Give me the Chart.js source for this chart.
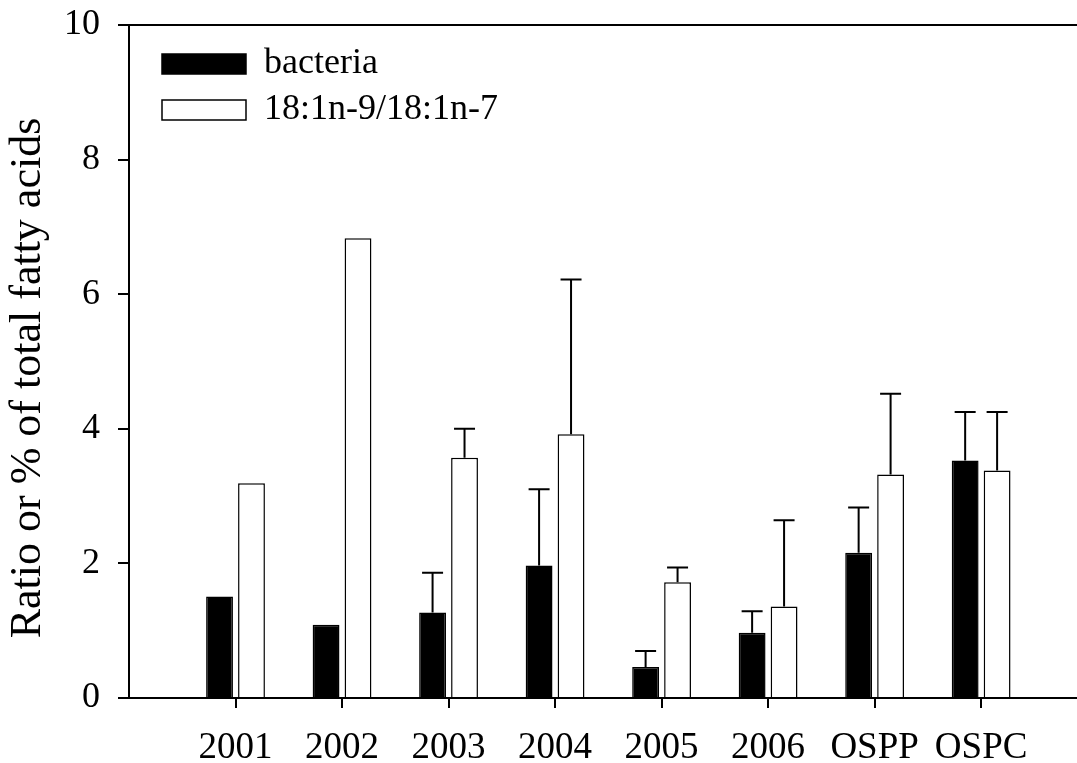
<!DOCTYPE html>
<html>
<head>
<meta charset="utf-8">
<script src="https://cdn.jsdelivr.net/npm/chart.js@4.4.1/dist/chart.umd.min.js"></script>
<style>
  html, body { margin: 0; padding: 0; background: #fff; overflow: hidden; }
  canvas { display: block; }
</style>
</head>
<body>
<canvas id="chart" width="1077" height="763"></canvas>
<script>
const categories = ["2001", "2002", "2003", "2004", "2005", "2006", "OSPP", "OSPC"];
const bacteria = [1.51, 1.09, 1.27, 1.97, 0.46, 0.97, 2.16, 3.53];
const bacteriaErr = [0, 0, 0.59, 1.13, 0.24, 0.32, 0.67, 0.72];
const oleicRatio = [3.19, 6.83, 3.57, 3.92, 1.72, 1.36, 3.32, 3.38];
const oleicRatioErr = [0, 0, 0.43, 2.30, 0.22, 1.28, 1.20, 0.87];
const yTicks = [0, 2, 4, 6, 8, 10];

const serif = "'Liberation Serif', 'Times New Roman', serif";

// upper error whiskers with a short cap
const errorBars = {
  id: "errorBars",
  afterDatasetsDraw(chart) {
    const ctx = chart.ctx;
    const y = chart.scales.y;
    ctx.save();
    ctx.strokeStyle = "#000";
    ctx.lineWidth = 2;
    chart.data.datasets.forEach((ds, di) => {
      const meta = chart.getDatasetMeta(di);
      meta.data.forEach((bar, i) => {
        const err = ds.errors[i];
        if (!err) return;
        const top = y.getPixelForValue(ds.data[i].y + err);
        ctx.beginPath();
        ctx.moveTo(bar.x, bar.y);
        ctx.lineTo(bar.x, top);
        ctx.moveTo(bar.x - 10.5, top);
        ctx.lineTo(bar.x + 10.5, top);
        ctx.stroke();
      });
    });
    ctx.restore();
  }
};

// nudge the legend into the upper left corner of the plot
const legendInside = {
  id: "legendInside",
  afterLayout(chart) {
    const area = chart.chartArea;
    chart.legend.left = area.left + 23;
    chart.legend.top = area.top + 11;
  }
};

new Chart(document.getElementById("chart"), {
  type: "bar",
  data: {
    datasets: [
      {
        label: "bacteria",
        data: bacteria.map((v, i) => ({ x: i + 1, y: v })),
        errors: bacteriaErr,
        backgroundColor: "#000",
        borderColor: "#000",
        borderWidth: 1.5
      },
      {
        label: "18:1n-9/18:1n-7",
        data: oleicRatio.map((v, i) => ({ x: i + 1, y: v })),
        errors: oleicRatioErr,
        backgroundColor: "#fff",
        borderColor: "#000",
        borderWidth: 1.5
      }
    ]
  },
  options: {
    responsive: false,
    animation: false,
    events: [],
    categoryPercentage: 0.6,
    barPercentage: 0.84,
    layout: { padding: { top: 25, left: 0, right: 0, bottom: 0 } },
    plugins: {
      legend: {
        position: "chartArea",
        align: "start",
        labels: {
          boxWidth: 84,
          boxHeight: 20,
          padding: 10,
          color: "#000",
          font: { family: serif, size: 36 }
        }
      },
      tooltip: { enabled: false }
    },
    scales: {
      x: {
        type: "linear",
        min: 0,
        max: 8.9,
        offset: false,
        afterBuildTicks: axis => { axis.ticks = categories.map((c, i) => ({ value: i + 1 })); },
        afterFit: axis => { axis.height = 65; },
        grid: { offset: false, drawOnChartArea: false, color: "#000", lineWidth: 2, tickLength: 10 },
        border: { color: "#000", width: 2 },
        ticks: {
          color: "#000",
          padding: 18,
          maxRotation: 0,
          autoSkip: false,
          font: { family: serif, size: 37 },
          callback: v => categories[v - 1]
        }
      },
      x2: {
        type: "linear",
        position: "top",
        min: 0,
        max: 1,
        afterFit: axis => { axis.height = 0; },
        grid: { offset: false, drawOnChartArea: false, drawTicks: false },
        border: { display: true, color: "#000", width: 2 },
        ticks: { display: false }
      },
      y: {
        min: 0,
        max: 10,
        afterBuildTicks: axis => { axis.ticks = yTicks.map(v => ({ value: v })); },
        afterFit: axis => {
          axis.width = 129;
          axis.paddingTop = 0;
          axis.paddingBottom = 0;
        },
        grid: { drawOnChartArea: false, color: "#000", lineWidth: 2, tickLength: 11 },
        border: { color: "#000", width: 2 },
        ticks: { color: "#000", padding: 18, font: { family: serif, size: 36 } },
        title: {
          display: true,
          // trailing spaces push the rotated text a little lower on the axis
          text: "Ratio or % of total fatty acids   ",
          color: "#000",
          font: { family: serif, size: 44 },
          padding: { top: 2, bottom: 0 }
        }
      }
    }
  },
  plugins: [errorBars, legendInside]
});
</script>
</body>
</html>
